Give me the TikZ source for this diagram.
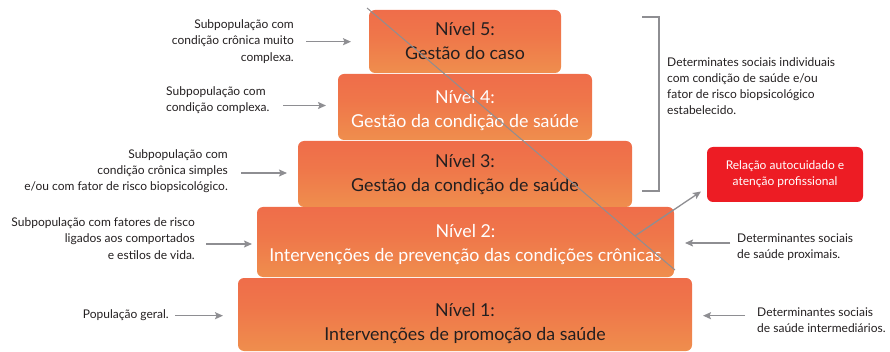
\documentclass[tikz,border=0pt]{standalone}
\usepackage{fontspec}
\setmainfont{Lato}
\usetikzlibrary{arrows.meta,calc}
\definecolor{redtop}{HTML}{F0624A}
\definecolor{orgmid}{HTML}{EF764A}
\definecolor{orglow}{HTML}{EEA650}
\definecolor{yelbot}{HTML}{EDE25C}
\definecolor{arrgray}{HTML}{8E8E92}
\definecolor{darktxt}{HTML}{231F20}
\definecolor{redbox}{HTML}{ED1C24}
\pgfdeclareverticalshading{levelshade}{100bp}{color(0bp)=(yelbot); color(8bp)=(orglow); color(25bp)=(orglow!50!orgmid); color(55bp)=(orgmid); color(100bp)=(redtop)}
\tikzset{
  levelbox/.style={shading=levelshade, rounded corners=6pt, inner sep=0pt},
  leveltext/.style={inner sep=0pt, align=center, font=\fontsize{17.8}{23.5}\selectfont},
  darklabel/.style={text=darktxt},
  lightlabel/.style={text=white},
  sidetext/.style={inner sep=0pt, text=darktxt, font=\fontsize{12}{16.2}\selectfont},
  arr/.style={draw=arrgray, line width=1.3pt, -{Stealth[length=8pt,width=7pt,inset=1.5pt]}},
  thinline/.style={draw=arrgray, line width=1pt},
  bracketline/.style={draw=arrgray, line width=1.5pt},
  redlabel/.style={fill=redbox, rounded corners=6pt, text=white, align=center, inner sep=0pt,
    font=\fontsize{12}{16.2}\selectfont}
}
\begin{document}
\begin{tikzpicture}[x=1pt,y=-1pt]
\useasboundingbox (0,0) rectangle (890,352);
% level boxes
\node[levelbox, minimum width=454pt, minimum height=73pt] (b1) at (465,314.5) {};
\node[leveltext, darklabel] (t1) at ($(b1.center)+(0,9)$) {Nível 1:\\Intervenções de promoção da saúde};
\node[levelbox, minimum width=417pt, minimum height=70pt] (b2) at (465.5,242) {};
\node[leveltext, lightlabel] (t2) at ($(b2.center)+(0,2.5)$) {Nível 2:\\Intervenções de prevenção das condições crônicas};
\node[levelbox, minimum width=334pt, minimum height=66pt] (b3) at (465,174) {};
\node[leveltext, darklabel] (t3) at ($(b3.center)+(0,0.5)$) {Nível 3:\\Gestão da condição de saúde};
\node[levelbox, minimum width=254pt, minimum height=66pt] (b4) at (465,107) {};
\node[leveltext, lightlabel] (t4) at ($(b4.center)+(0,3.5)$) {Nível 4:\\Gestão da condição de saúde};
\node[levelbox, minimum width=192pt, minimum height=63pt] (b5) at (465,41.5) {};
\node[leveltext, darklabel] (t5) at ($(b5.center)+(0,-0.5)$) {Nível 5:\\Gestão do caso};
% diagonal line
\coordinate (d1) at (367,8);
\coordinate (d2) at (675,270);
\draw[thinline] (d1) -- (d2);
% red box
\node[redlabel, minimum width=156pt, minimum height=55pt] (rel) at (785,174.5) {Relação autocuidado e\\atenção profissional};
\coordinate (ds) at ($(d1)!0.87!(d2)$);
\coordinate (de) at (701,191.5);
\draw[arr] (ds) -- (de);
% left labels
\node[sidetext, align=right, anchor=east] (l5) at (294,41.5) {Subpopulação com\\condição crônica muito\\complexa.};
\node[sidetext, align=left, anchor=west] (l4) at (166,100.5) {Subpopulação com\\condição complexa.};
\node[sidetext, align=right, anchor=east] (l3) at (228,171) {Subpopulação com\\condição crônica simples\\e/ou com fator de risco biopsicológico.};
\node[sidetext, align=right, anchor=east] (l2) at (195,238.5) {Subpopulação com fatores de risco\\ligados aos comportados\\e estilos de vida.};
\node[sidetext, align=right, anchor=east] (l1) at (169,315.5) {População geral.};
% right labels
\node[sidetext, align=left, anchor=west] (r2) at (737,247) {Determinantes sociais\\de saúde proximais.};
\node[sidetext, align=left, anchor=west] (r1) at (757,320.5) {Determinantes sociais\\de saúde intermediários.};
\node[sidetext, align=left, anchor=west] (rb) at (667,86) {Determinates sociais individuais\\com condição de saúde e/ou\\fator de risco biopsicológico\\estabelecido.};
% bracket
\coordinate (k1) at (642,17);
\coordinate (k2) at (659,17);
\coordinate (k3) at (659,191);
\coordinate (k4) at (642,191);
\draw[bracketline] (k1) -- (k2) -- (k3) -- (k4);
% arrows left
\coordinate (a5s) at (306,41.7); \coordinate (a5e) at (351,41.7);
\coordinate (a4s) at (283,105.5); \coordinate (a4e) at (326,105.5);
\coordinate (a3s) at (241,173); \coordinate (a3e) at (287,173);
\coordinate (a2s) at (206,244); \coordinate (a2e) at (252,244);
\coordinate (a1s) at (175,315.7); \coordinate (a1e) at (223,315.7);
\draw[arr] (a5s) -- (a5e);
\draw[arr] (a4s) -- (a4e);
\draw[arr] (a3s) -- (a3e);
\draw[arr] (a2s) -- (a2e);
\draw[arr] (a1s) -- (a1e);
% arrows right
\coordinate (ra2s) at (730,243); \coordinate (ra2e) at (685,243);
\coordinate (ra1s) at (745,315.7); \coordinate (ra1e) at (703,315.7);
\draw[arr] (ra2s) -- (ra2e);
\draw[arr] (ra1s) -- (ra1e);
\end{tikzpicture}
\end{document}
